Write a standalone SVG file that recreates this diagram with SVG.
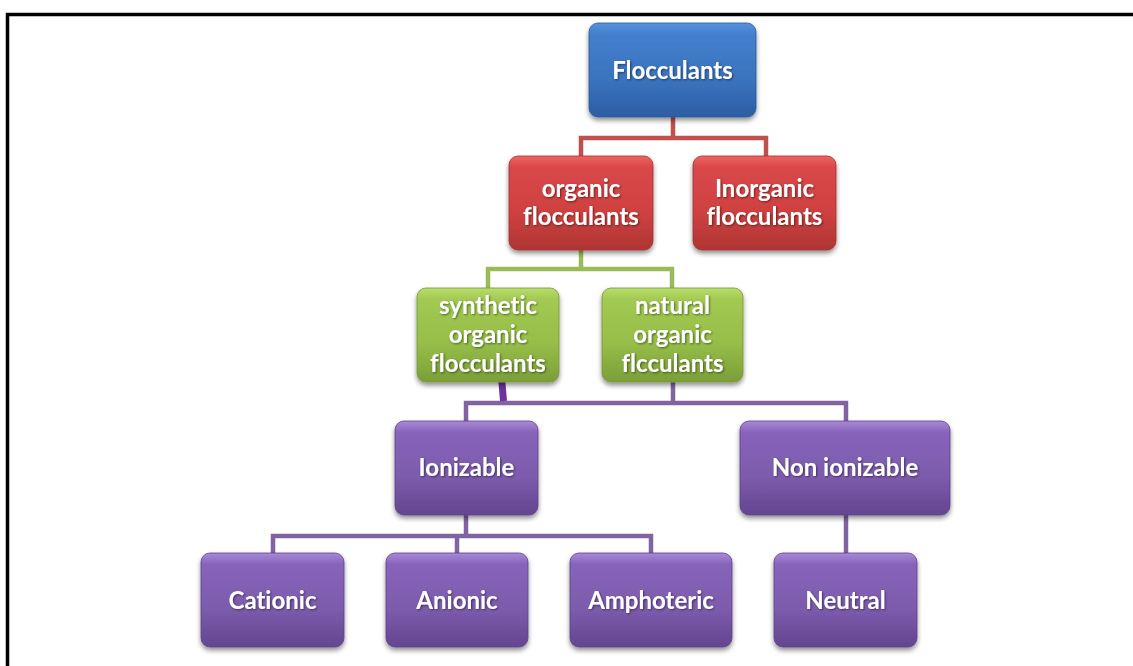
<svg xmlns="http://www.w3.org/2000/svg" width="1133" height="666" viewBox="0 0 1133 666">
<defs>
<linearGradient id="gBlue" x1="0" y1="0" x2="0" y2="1">
<stop offset="0" stop-color="#5593DD"/><stop offset="0.12" stop-color="#437FCC"/><stop offset="0.6" stop-color="#3A73BF"/><stop offset="1" stop-color="#2C5EA2"/>
</linearGradient>
<linearGradient id="gRed" x1="0" y1="0" x2="0" y2="1">
<stop offset="0" stop-color="#EC6461"/><stop offset="0.12" stop-color="#D9474A"/><stop offset="0.6" stop-color="#CF4140"/><stop offset="1" stop-color="#AE3533"/>
</linearGradient>
<linearGradient id="gGreen" x1="0" y1="0" x2="0" y2="1">
<stop offset="0" stop-color="#B8DD6C"/><stop offset="0.12" stop-color="#A2CA52"/><stop offset="0.6" stop-color="#95BD48"/><stop offset="1" stop-color="#7B9E38"/>
</linearGradient>
<linearGradient id="gPurple" x1="0" y1="0" x2="0" y2="1">
<stop offset="0" stop-color="#A88AD8"/><stop offset="0.12" stop-color="#8764BA"/><stop offset="0.6" stop-color="#7C5BAC"/><stop offset="1" stop-color="#634590"/>
</linearGradient>
<filter id="sh" x="-10%" y="-10%" width="120%" height="130%">
<feGaussianBlur in="SourceAlpha" stdDeviation="2.5"/>
<feOffset dx="0" dy="3" result="b"/>
<feComponentTransfer><feFuncA type="linear" slope="0.45"/></feComponentTransfer>
<feMerge><feMergeNode/><feMergeNode in="SourceGraphic"/></feMerge>
</filter>
<filter id="ts" x="-5%" y="-20%" width="110%" height="140%">
<feGaussianBlur in="SourceAlpha" stdDeviation="0.8"/>
<feOffset dx="0.5" dy="1" result="b"/>
<feComponentTransfer><feFuncA type="linear" slope="0.5"/></feComponentTransfer>
<feMerge><feMergeNode/><feMergeNode in="SourceGraphic"/></feMerge>
</filter>
</defs>
<style>
.box{filter:url(#sh);}
.blue{fill:url(#gBlue);stroke:#2B5A99;stroke-width:0.8}
.red{fill:url(#gRed);stroke:#A33230;stroke-width:0.8}
.green{fill:url(#gGreen);stroke:#76973A;stroke-width:0.8}
.purple{fill:url(#gPurple);stroke:#5E4388;stroke-width:0.8}
.lbl{font-family:Lato,"Open Sans","Liberation Sans",sans-serif;font-weight:bold;font-size:24px;fill:#FFFFFF;text-anchor:middle;filter:url(#ts);font-variant-ligatures:none}
.cR{stroke:#C0504D;stroke-width:4.5;fill:none}
.cG{stroke:#9BBB59;stroke-width:4.5;fill:none}
.cP{stroke:#8064A2;stroke-width:4.5;fill:none}
.border{stroke:#000;stroke-width:3.5;fill:none}
</style>
<rect width="1133" height="666" fill="#FFFFFF"/>
<path class="border" d="M7.5,666 V14.5 H1133"/>
<g id="connectors">
<path class="cR" d="M673,117 V138 M581,156 V138 H766 V156"/>
<path class="cG" d="M581,250 V269 M488,288 V269 H672 V288"/>
<path class="cP" d="M673,382 V403 M466,421 V403 H846 V421"/>
<path d="M501.5,377 L503.5,401" stroke="#7030A0" stroke-width="7" fill="none"/>
<path class="cP" d="M466,515 V536 M273,553 V536 H651 V553 M457,536 V553"/>
<path class="cP" d="M846,515 V553"/>
</g>
<g id="n-flocculants"><rect class="box blue" x="589" y="23" width="167" height="94" rx="9"/><text class="lbl" x="672.5" y="79">Flocculants</text></g>
<g id="n-organic"><rect class="box red" x="509" y="156" width="144" height="94" rx="9"/><text class="lbl" x="581" y="197">organic</text><text class="lbl" x="581" y="225">flocculants</text></g>
<g id="n-inorganic"><rect class="box red" x="693" y="156" width="143" height="94" rx="9"/><text class="lbl" x="764.5" y="197">Inorganic</text><text class="lbl" x="764.5" y="225">flocculants</text></g>
<g id="n-synthetic"><rect class="box green" x="417" y="288" width="142" height="94" rx="9"/><text class="lbl" x="488" y="314">synthetic</text><text class="lbl" x="488" y="343">organic</text><text class="lbl" x="488" y="372">flocculants</text></g>
<g id="n-natural"><rect class="box green" x="602" y="288" width="141" height="94" rx="9"/><text class="lbl" x="672.5" y="314">natural</text><text class="lbl" x="672.5" y="343">organic</text><text class="lbl" x="672.5" y="372">flcculants</text></g>
<g id="n-ionizable"><rect class="box purple" x="395" y="421" width="143" height="94" rx="9"/><text class="lbl" x="466.5" y="476">Ionizable</text></g>
<g id="n-nonionizable"><rect class="box purple" x="740" y="421" width="210" height="94" rx="9"/><text class="lbl" x="845" y="476">Non ionizable</text></g>
<g id="n-cationic"><rect class="box purple" x="201" y="553" width="143" height="94" rx="9"/><text class="lbl" x="272.5" y="609">Cationic</text></g>
<g id="n-anionic"><rect class="box purple" x="386" y="553" width="142" height="94" rx="9"/><text class="lbl" x="457" y="609">Anionic</text></g>
<g id="n-amphoteric"><rect class="box purple" x="570" y="553" width="162" height="94" rx="9"/><text class="lbl" x="651" y="609">Amphoteric</text></g>
<g id="n-neutral"><rect class="box purple" x="774" y="553" width="143" height="94" rx="9"/><text class="lbl" x="845.5" y="609">Neutral</text></g>
</svg>
